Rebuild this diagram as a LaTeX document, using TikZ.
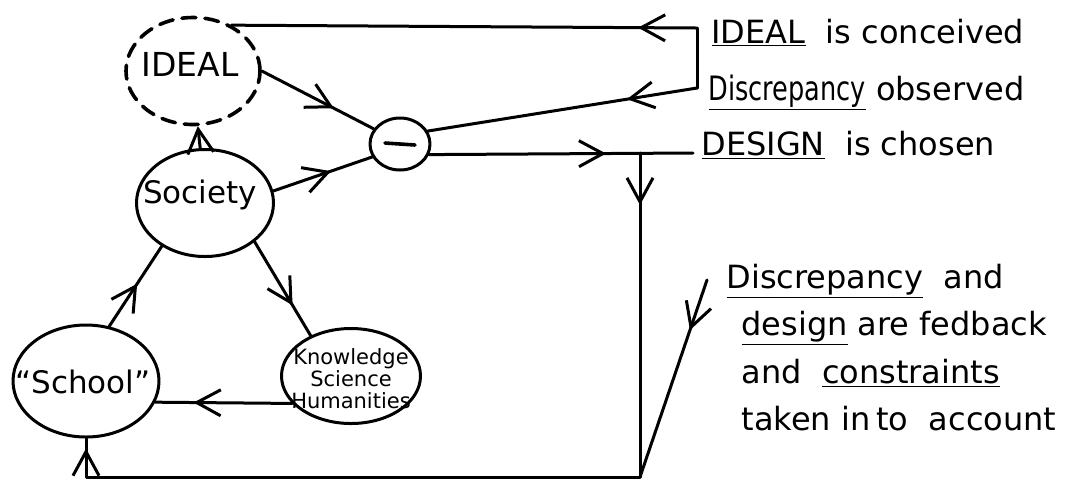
\documentclass[tikz,border=0pt]{standalone}
\usepackage{graphicx}
\usepackage{fontspec}
\setmainfont{DejaVu Sans}
\usetikzlibrary{shapes.geometric,arrows.meta,decorations.markings}

\tikzset{
  barb/.tip={Straight Barb[length=12pt,width=13pt]},
  bubble/.style={ellipse, draw, inner sep=0pt},
  hazy/.style={dash pattern=on 7pt off 4.5pt, line width=1.8pt},
  midarrow/.style={postaction={decorate},
    decoration={markings, mark=at position #1 with {\arrow{barb}}}},
  word/.style={inner sep=0pt, font=\fontsize{15.5}{15.5}\selectfont},
  small/.style={inner sep=0pt, align=center, font=\fontsize{10.5}{11}\selectfont},
  note/.style={anchor=base west, inner sep=0pt, font=\fontsize{16}{16}\selectfont},
}

\begin{document}
\begin{tikzpicture}[x=0.5pt, y=-0.5pt, line width=1.5pt, line cap=round, line join=round]
\useasboundingbox (0,0) rectangle (1072,479);

% bubbles
\node[bubble, hazy, minimum width=67pt, minimum height=53.5pt] (ideal) at (193,71) {};
\node[bubble, minimum width=68.5pt, minimum height=53.5pt] (soc) at (205,203) {};
\node[bubble, minimum width=30pt, minimum height=26pt] (minus) at (400,144) {};
\node[bubble, minimum width=73pt, minimum height=56pt] (school) at (86,381) {};
\node[bubble, minimum width=69.5pt, minimum height=47.5pt] (know) at (351,376) {};

% bubble texts
\node[word, font=\fontsize{16.5}{16.5}\selectfont] (idealtxt) at (190,64) {IDEAL};
\node[word] (soctxt) at (200,195) {Society};
\node[word] (schooltxt) at (83,382) {“School”};
\node[small] (knowtxt) at (351,379) {Knowledge\\Science\\Humanities};
\draw[line width=1.8pt] ([xshift=-7.5pt,yshift=0.5pt]minus.center) -- ([xshift=7.5pt,yshift=-0.5pt]minus.center);

% texts on the right
\node[note] (t1) at (710,43) {\underline{IDEAL} \ is conceived};
\node[note] (t2) at (707,100) {\underline{\scalebox{0.8}[1.05]{Discrepancy}} observed};
\node[note] (t3) at (700,155) {\underline{DESIGN} \ is chosen};
\node[note] (t4) at (725,288) {\underline{Discrepancy} \ and};
\node[note] (t5) at (740,335) {\underline{design} are fedback};
\node[note] (t6) at (740,383) {and \ \underline{constraints}};
\node[note] (t7) at (740,430) {taken in\hspace{3pt}to \ account};

% connector corners
\coordinate (brT) at (697,28);
\coordinate (brB) at (697,88);
\coordinate (dEnd) at (693,153);
\coordinate (jn) at (640,153);
\coordinate (cBR) at (640,477);
\coordinate (cBL) at (86,477);
\coordinate (dTop) at (707,280);

% feedback from the right
\draw (brT) -- (brB);
\draw[midarrow=29.5pt] (brT) -- (ideal.50);
\draw[midarrow=35.5pt] (brB) -- (minus.25);
\draw[midarrow=88.5pt] (minus.-20) -- (dEnd);
\draw[midarrow=26pt] (jn) -- (cBR);
\draw[midarrow=26.5pt] (dTop) -- (cBR);
\draw[midarrow=-5pt] (cBR) -- (cBL) -- (school.south);

% the inner loop
\draw[midarrow=40.5pt] (ideal.east) -- (minus.150);
\draw[midarrow=30.5pt] (soc.10) -- (minus.205);
\draw[-barb] (soc.95) -- (ideal.275);
\draw[midarrow=25.5pt] (school.67) -- (soc.225);
\draw[midarrow=37pt] (soc.-38) -- (know.135);
\draw[midarrow=49.3pt] (know.205) -- (school.-17);
\end{tikzpicture}
\end{document}
